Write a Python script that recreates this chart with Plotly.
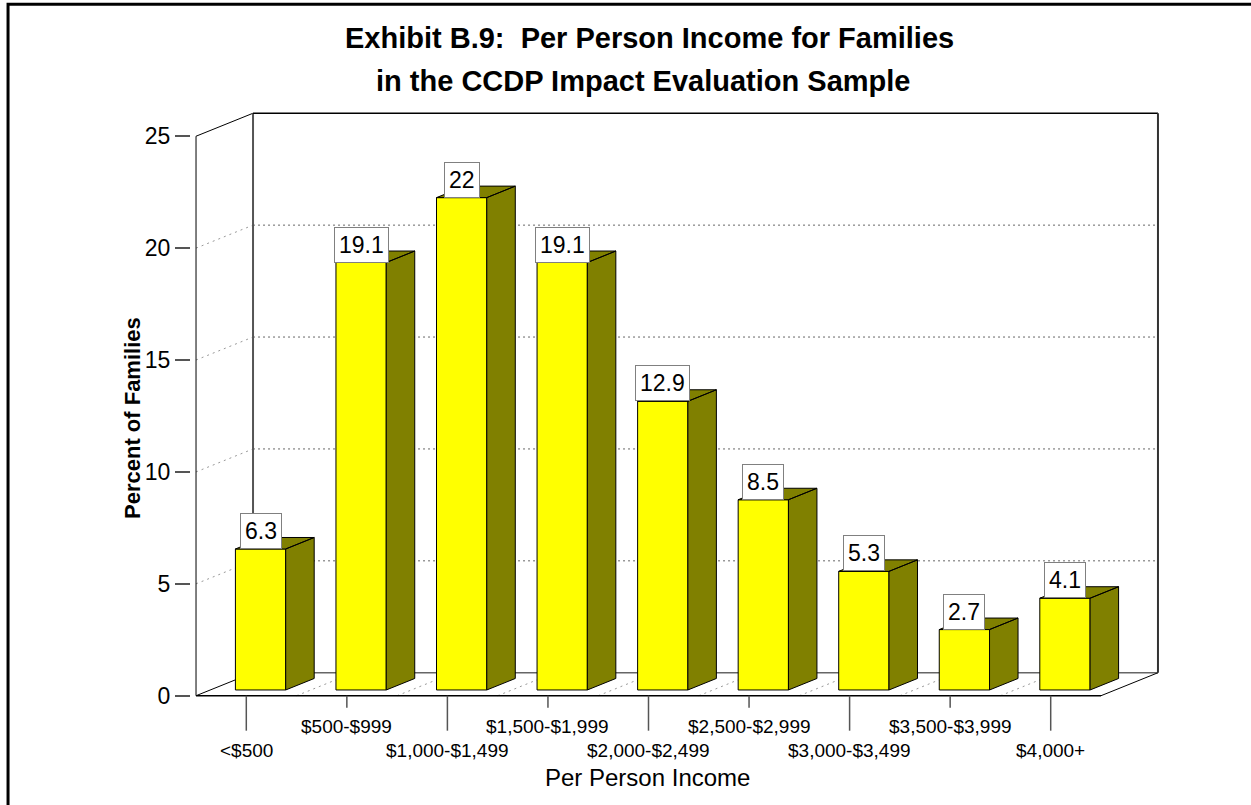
import plotly.graph_objects as go

# ---------------- data ----------------
categories = ["&lt;$500", "$500-$999", "$1,000-$1,499", "$1,500-$1,999", "$2,000-$2,499",
              "$2,500-$2,999", "$3,000-$3,499", "$3,500-$3,999", "$4,000+"]
percent = [6.3, 19.1, 22, 19.1, 12.9, 8.5, 5.3, 2.7, 4.1]
y_tick_values = [0, 5, 10, 15, 20, 25]
grid_values = [5, 10, 15, 20]

title_line1 = "Exhibit B.9:&nbsp; Per Person Income for Families"
title_line2 = "in the CCDP Impact Evaluation Sample"
x_title = "Per Person Income"
y_title = "Percent of Families"

# ---------------- geometry / style ----------------
W, H = 1251, 805
PX_X = 100.556          # pixels per category
PX_Y = 22.4             # pixels per percent point
DX = 57 / PX_X          # 3-D depth (category units)
DY = 23 / PX_Y          # 3-D depth (value units)
BAR_W = 0.5
F0, F1 = 0.25, 0.75     # depth band occupied by bars
FRONT_X0_PX, ZERO_PX = 196, 696

n = len(categories)
x_left, x_right = -0.5, n - 0.5
y_max = y_tick_values[-1]
PADX = 0.05
Y_BOTTOM = -1.8
xr = [x_left - PADX, x_right + DX + PADX]
yr = [Y_BOTTOM, y_max + DY + 0.1]

ml = FRONT_X0_PX - PADX * PX_X
plot_w = (xr[1] - xr[0]) * PX_X
mr = W - ml - plot_w
plot_bottom_px = ZERO_PX - Y_BOTTOM * PX_Y
mb = H - plot_bottom_px
plot_h = (yr[1] - yr[0]) * PX_Y
mt = plot_bottom_px - plot_h


def pxx(px):
    return (px - ml) / plot_w


def pxy(py):
    return (plot_bottom_px - py) / plot_h


YELLOW = "#FFFF00"
OLIVE = "#808000"
FONT = "Liberation Sans, Arial, sans-serif"

fig = go.Figure()

# front faces of the bars
fig.add_trace(go.Bar(
    x=[i + F0 * DX for i in range(n)],
    y=percent,
    base=[F0 * DY] * n,
    width=BAR_W,
    marker=dict(color=YELLOW, line=dict(color="black", width=1)),
    hoverinfo="skip",
))

# side and top faces
sx, sy = [], []
for i, v in enumerate(percent):
    xl = i - BAR_W / 2 + F0 * DX
    xrr = i + BAR_W / 2 + F0 * DX
    dd = (F1 - F0) * DX
    b0, b1 = F0 * DY, F1 * DY
    sx += [xrr, xrr + dd, xrr + dd, xrr, xrr, None]
    sy += [b0, b1, v + b1, v + b0, b0, None]
    sx += [xl, xrr, xrr + dd, xl + dd, xl, None]
    sy += [v + b0, v + b0, v + b1, v + b1, v + b0, None]
fig.add_trace(go.Scatter(
    x=sx, y=sy, mode="lines", fill="toself", fillcolor=OLIVE,
    line=dict(color="black", width=1), hoverinfo="skip",
))

# x tick marks (alternating length)
tx, ty = [], []
for i in range(n):
    length = 35 if i % 2 == 0 else 12
    tx += [i, i, None]
    ty += [0, -length / PX_Y, None]
fig.add_trace(go.Scatter(
    x=tx, y=ty, mode="lines", line=dict(color="#555555", width=1.5), hoverinfo="skip",
))

shapes = []


def seg(x0, y0, x1, y1, color="black", width=1, dash="solid"):
    shapes.append(dict(type="line", xref="x", yref="y", x0=x0, y0=y0, x1=x1, y1=y1,
                       line=dict(color=color, width=width, dash=dash), layer="below"))


for g in grid_values:
    seg(x_left, g, x_left + DX, g + DY, color="#999999", width=1, dash="2px,4px")
    seg(x_left + DX, g + DY, x_right + DX, g + DY, color="#666666", width=1, dash="2px,3px")
for i in range(n - 1):
    b = i + 0.5
    seg(b, 0, b + DX, DY, color="#999999", width=1, dash="2px,4px")

seg(x_left, 0, x_left, y_max, color="black", width=1)
seg(x_left, y_max, x_left + DX, y_max + DY, color="black", width=1)
seg(x_left, 0, x_left + DX, DY, color="black", width=1)
seg(x_left + DX, DY, x_left + DX, y_max + DY, color="#555555", width=2)
seg(x_left + DX, y_max + DY, x_right + DX, y_max + DY, color="black", width=1.5)
seg(x_right + DX, DY, x_right + DX, y_max + DY, color="#333333", width=2)
seg(x_left + DX, DY, x_right + DX, DY, color="#666666", width=1.5)
seg(x_left, 0, x_right, 0, color="black", width=1.5)
seg(x_right, 0, x_right + DX, DY, color="black", width=1)

# outer frame
shapes.append(dict(type="rect", xref="paper", yref="paper",
                   x0=pxx(8), x1=pxx(1256), y0=pxy(810), y1=pxy(4),
                   line=dict(color="black", width=3), layer="above"))

annotations = []
for i, v in enumerate(percent):
    annotations.append(dict(
        x=i + F0 * DX, y=v + F0 * DY, xref="x", yref="y", text=f"{v:g}",
        showarrow=False, yanchor="bottom", xanchor="center",
        font=dict(family=FONT, size=23, color="black"),
        bgcolor="white", bordercolor="#808080", borderwidth=1, borderpad=4,
    ))
for i, c in enumerate(categories):
    annotations.append(dict(
        x=i, y=0, xref="x", yref="y", text=c, showarrow=False,
        yanchor="middle", xanchor="center", yshift=-55 if i % 2 == 0 else -31,
        font=dict(family=FONT, size=19, color="black"),
    ))
annotations.append(dict(x=pxx(650), y=pxy(38), xref="paper", yref="paper", text=f"<b>{title_line1}</b>",
                        showarrow=False, xanchor="center", yanchor="middle",
                        font=dict(family=FONT, size=29, color="black")))
annotations.append(dict(x=pxx(643), y=pxy(81), xref="paper", yref="paper", text=f"<b>{title_line2}</b>",
                        showarrow=False, xanchor="center", yanchor="middle",
                        font=dict(family=FONT, size=29, color="black")))
annotations.append(dict(x=pxx(648), y=pxy(778), xref="paper", yref="paper", text=x_title,
                        showarrow=False, xanchor="center", yanchor="middle",
                        font=dict(family=FONT, size=24, color="black")))
annotations.append(dict(x=pxx(133), y=pxy(418), xref="paper", yref="paper", text=f"<b>{y_title}</b>",
                        showarrow=False, xanchor="center", yanchor="middle", textangle=-90,
                        font=dict(family=FONT, size=22, color="black")))

fig.update_layout(
    width=W, height=H,
    margin=dict(l=ml, r=mr, t=mt, b=mb, pad=0),
    paper_bgcolor="white", plot_bgcolor="white",
    showlegend=False,
    shapes=shapes, annotations=annotations,
    xaxis=dict(range=xr, showgrid=False, zeroline=False, showline=False,
               showticklabels=False, ticks="", fixedrange=True),
    yaxis=dict(range=yr, tickvals=y_tick_values, ticktext=[str(t) for t in y_tick_values],
               showgrid=False, zeroline=False, showline=False,
               ticks="outside", ticklen=15, tickwidth=1.5, tickcolor="#555555",
               tickfont=dict(family=FONT, size=23, color="black"), fixedrange=True),
    font=dict(family=FONT),
)

fig.write_html("out.html",
               config={"displayModeBar": False},
               post_script="document.body.style.margin='0px';document.body.style.overflow='hidden';")
